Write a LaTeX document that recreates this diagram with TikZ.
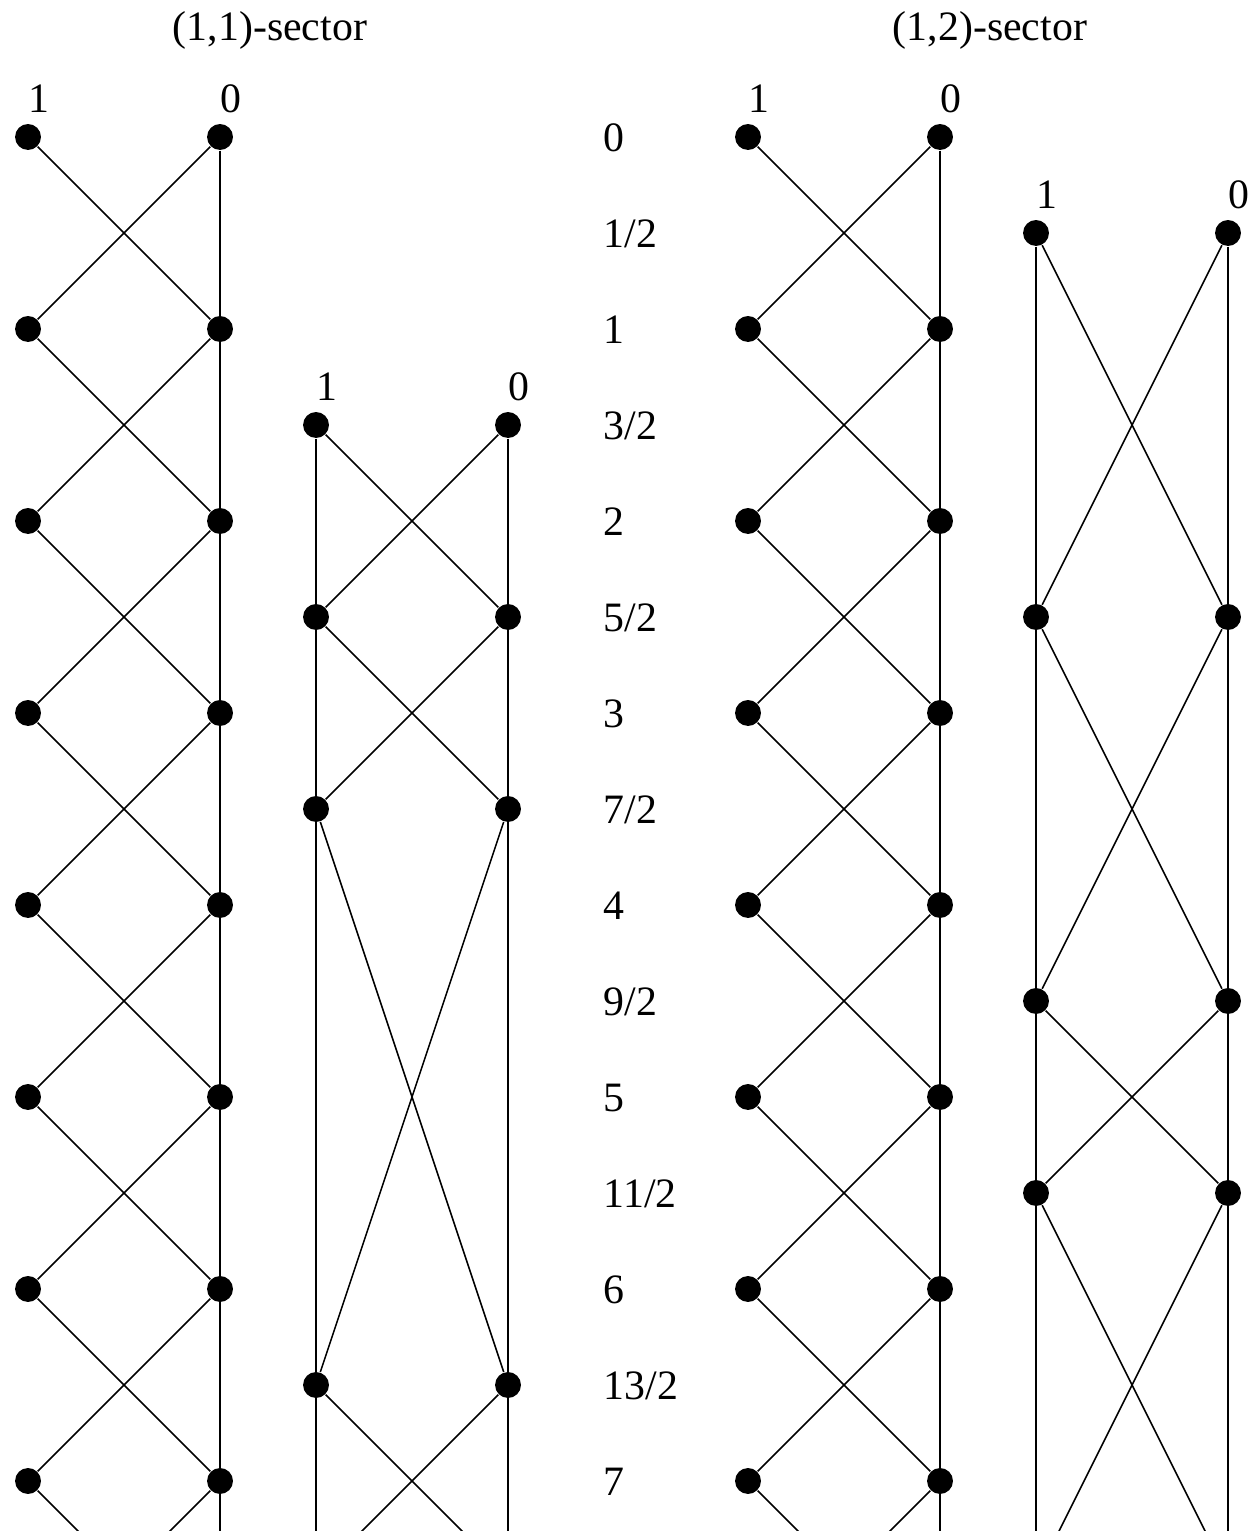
\documentclass[tikz,border=0pt]{standalone}
\usepackage{fontspec}
\setmainfont{Liberation Serif}
\begin{document}
\begin{tikzpicture}[x=1cm, y=1cm, line width=0.45pt,
    dot/.style={circle, fill=black, inner sep=0pt, minimum size=0.27cm},
    lbl/.style={inner sep=0pt, font=\fontsize{12.4}{15}\selectfont},
    ttl/.style={lbl, anchor=base}]
    % page frame (same proportions as the reference)
    \useasboundingbox (-0.292,1.427) rectangle (12.802,-14.521);
    \clip (-0.292,1.427) rectangle (12.802,-14.521);

    % titles
    \node[ttl] (t11) at (2.52,1.0) {(1,1)-sector};
    \node[ttl] (t12) at (10.02,1.0) {(1,2)-sector};

    % grades in the middle
    \foreach \r in {0,...,14} {
        \ifodd\r \def\t{\r/2}\else \pgfmathtruncatemacro\t{\r/2}\fi
        \node[lbl, anchor=base west] (g\r) at (5.99,-\r-0.156) {\t};
    }

    % (1,1): integer grades
    \foreach \r in {0,2,...,14} {
        \node[dot] (A1-\r) at (0,-\r) {};
        \node[dot] (A0-\r) at (2,-\r) {};
    }
    \coordinate (A1-16) at (0,-16); \coordinate (A0-16) at (2,-16);
    \foreach \r in {0,2,...,14} {
        \pgfmathtruncatemacro\s{\r+2}
        \draw (A1-\r) -- (A0-\s);
        \draw (A0-\r) -- (A1-\s);
    }
    \draw (A0-0) -- (A0-16);

    % (1,1): half-integer grades
    \foreach \r in {3,5,7,13} {
        \node[dot] (B1-\r) at (3,-\r) {};
        \node[dot] (B0-\r) at (5,-\r) {};
    }
    \coordinate (B1-15) at (3,-15); \coordinate (B0-15) at (5,-15);
    \foreach \r/\s in {3/5,5/7,7/13,13/15} {
        \draw (B1-\r) -- (B0-\s);
        \draw (B0-\r) -- (B1-\s);
    }
    \draw (B1-3) -- (B1-15);
    \draw (B0-3) -- (B0-15);

    % (1,2): integer grades
    \foreach \r in {0,2,...,14} {
        \node[dot] (C1-\r) at (7.5,-\r) {};
        \node[dot] (C0-\r) at (9.5,-\r) {};
    }
    \coordinate (C1-16) at (7.5,-16); \coordinate (C0-16) at (9.5,-16);
    \foreach \r in {0,2,...,14} {
        \pgfmathtruncatemacro\s{\r+2}
        \draw (C1-\r) -- (C0-\s);
        \draw (C0-\r) -- (C1-\s);
    }
    \draw (C0-0) -- (C0-16);

    % (1,2): half-integer grades
    \foreach \r in {1,5,9,11} {
        \node[dot] (D1-\r) at (10.5,-\r) {};
        \node[dot] (D0-\r) at (12.5,-\r) {};
    }
    \coordinate (D1-15) at (10.5,-15); \coordinate (D0-15) at (12.5,-15);
    \foreach \r/\s in {1/5,5/9,9/11,11/15} {
        \draw (D1-\r) -- (D0-\s);
        \draw (D0-\r) -- (D1-\s);
    }
    \draw (D1-1) -- (D1-15);
    \draw (D0-1) -- (D0-15);

    % column labels
    \foreach \p/\x/\r in {A/0/0,B/3/3,C/7.5/0,D/10.5/1} {
        \node[lbl, anchor=base] (\p1-lbl) at (\x+0.11,-\r+0.25) {1};
        \node[lbl, anchor=base] (\p0-lbl) at (\x+2.11,-\r+0.25) {0};
    }
\end{tikzpicture}
\end{document}
